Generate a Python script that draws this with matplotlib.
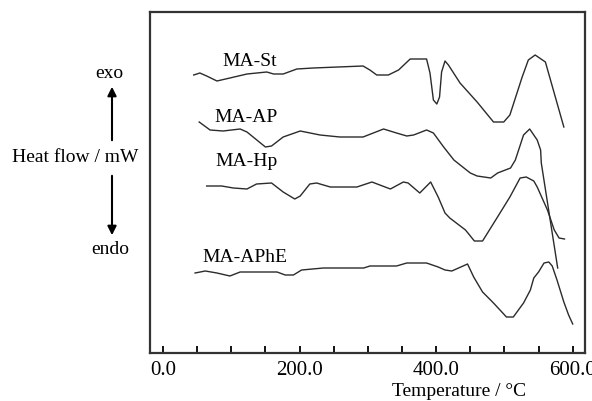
# DTA curves of the four MA samples, redrawn from the figure.

import matplotlib
matplotlib.use("Agg")
from matplotlib import pyplot as plt
from matplotlib.ticker import MultipleLocator

plt.rcParams['font.family'] = ['Liberation Serif', 'DejaVu Serif']

# temperature (°C) and heat flow (arbitrary units, curves offset)
st_t = [45, 54, 64, 79, 98, 123, 152, 162, 176, 196, 220, 293, 303, 313, 330, 345,
        362, 386, 391, 396, 401, 405, 408, 413, 418, 435, 460, 484, 499, 508, 526,
        535, 545, 560, 587]
st_hf = [278, 280, 277, 272, 275, 279, 281, 279, 279, 284, 285, 287, 283, 278, 278, 283,
         294, 294, 280, 253, 249, 256, 281, 292, 288, 270, 251, 231, 231, 238, 276,
         293, 298, 291, 226]

ap_t = [53, 69, 88, 113, 123, 150, 159, 176, 201, 230, 259, 293, 323, 342, 357, 367,
        386, 396, 411, 426, 450, 460, 480, 490, 509, 516, 528, 537, 548, 553, 554, 578]
ap_hf = [231, 223, 222, 224, 221, 206, 207, 216, 222, 218, 216, 216, 224, 220, 217, 218,
         223, 220, 206, 193, 180, 177, 175, 180, 185, 193, 218, 224, 213, 203, 190, 85]

hp_t = [64, 86, 103, 123, 137, 159, 176, 193, 201, 215, 225, 245, 284, 306, 333, 352,
        359, 376, 392, 403, 413, 420, 443, 456, 468, 489, 508, 523, 532, 543, 548, 563,
        573, 580, 588]
hp_hf = [167, 167, 165, 164, 169, 170, 161, 154, 157, 169, 170, 166, 166, 171, 164, 171,
         170, 160, 171, 156, 140, 135, 123, 112, 112, 135, 156, 175, 176, 172, 166, 143,
         123, 115, 114]

aphe_t = [47, 62, 79, 98, 113, 167, 179, 191, 203, 235, 294, 303, 342, 357, 386, 403,
          413, 423, 446, 455, 468, 484, 503, 513, 528, 538, 543, 550, 558, 565, 570,
          577, 587, 594, 600]
aphe_hf = [80, 82, 80, 77, 81, 81, 78, 78, 83, 85, 85, 87, 87, 90, 90, 86,
           83, 82, 89, 76, 61, 50, 36, 36, 50, 63, 75, 81, 90, 91, 87,
           73, 51, 38, 29]

names = ["MA-St", "MA-AP", "MA-Hp", "MA-APhE"]
label_x = [127, 122, 122, 120]
label_y = [291, 235, 191, 96]

W, H = 592, 401
fig = plt.figure(figsize=(W / 100, H / 100), dpi=100)
ax = fig.add_axes([150 / W, (H - 353) / H, 435 / W, 341 / H])

for t, hf in [(st_t, st_hf), (ap_t, ap_hf), (hp_t, hp_hf), (aphe_t, aphe_hf)]:
    ax.plot(t, hf, color='#2b2b2b', lw=1.0)

for name, x, y in zip(names, label_x, label_y):
    ax.text(x, y, name, ha='center', va='center', fontsize=14)

ax.set_xlim(-19, 618)
ax.set_ylim(0, 341)
ax.xaxis.set_major_locator(MultipleLocator(200))
ax.xaxis.set_minor_locator(MultipleLocator(50))
ax.xaxis.set_major_formatter(lambda v, pos: "%.1f" % v)
ax.tick_params(axis='x', which='both', direction='in', length=5, width=1.3,
               labelsize=15, pad=6, top=False)
ax.set_yticks([])
for s in ax.spines.values():
    s.set_linewidth(1.6)
    s.set_color('#333333')

fig.text(459 / W, (H - 392) / H, "Temperature / \u00b0C", ha='center', va='center', fontsize=14)

# y axis label with exo / endo arrows
fig.text(75 / W, (H - 158) / H, "Heat flow / mW", ha='center', va='center', fontsize=14)
fig.text(109 / W, (H - 74) / H, "exo", ha='center', va='center', fontsize=14)
fig.text(110 / W, (H - 249) / H, "endo", ha='center', va='center', fontsize=14)
ax.annotate('', xy=(112, H - 84), xytext=(112, H - 143), xycoords='figure pixels',
            textcoords='figure pixels',
            arrowprops=dict(arrowstyle='-|>', lw=1.5, color='black', mutation_scale=13))
ax.annotate('', xy=(112, H - 238), xytext=(112, H - 173), xycoords='figure pixels',
            textcoords='figure pixels',
            arrowprops=dict(arrowstyle='-|>', lw=1.5, color='black', mutation_scale=13))

fig.savefig("out.png", dpi=100)
